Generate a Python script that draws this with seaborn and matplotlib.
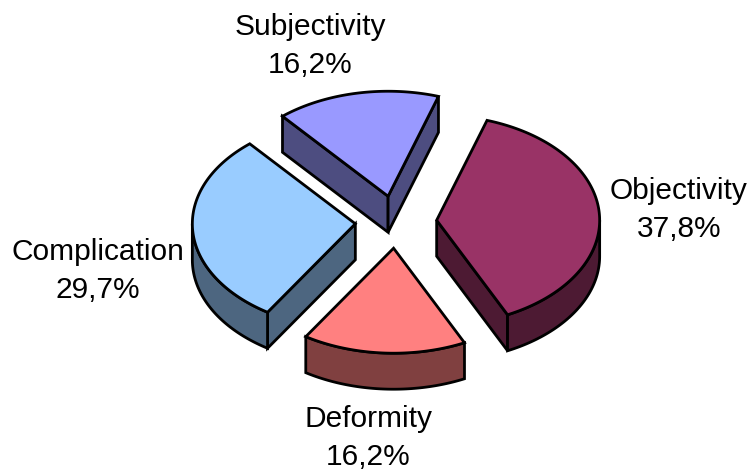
import numpy as np
import matplotlib
matplotlib.use("Agg")
import matplotlib.pyplot as plt
import seaborn as sns

# Shares of each category, percent
categories = ["Objectivity", "Deformity", "Complication", "Subjectivity"]
shares = [37.8, 16.2, 29.7, 16.2]
share_labels = ["37,8%", "16,2%", "29,7%", "16,2%"]
top_colors = ["#993366", "#FF8080", "#99CCFF", "#9999FF"]
side_colors = ["#4D1A33", "#804040", "#4D6680", "#4D4D80"]

START_DEG = 18.0      # first slice begins here, clockwise from twelve o'clock
EXPLODE = 0.25        # slice displacement, in pie radii
DEPTH = 0.343         # wall height, in vertical units
PX_X, PX_Y = 163.0, 105.0   # pixels per unit on the tilted disc
CX, CY = 396.0, 222.0       # pie centre, pixels

sns.set_theme(style="white")
plt.rcParams["font.family"] = ["Liberation Sans", "DejaVu Sans"]

W, H = 752, 470
fig = plt.figure(figsize=(W / 100, H / 100), dpi=100)
ax = fig.add_axes([0, 0, 1, 1])
ax.set_xlim(-CX / PX_X, (W - CX) / PX_X)
ax.set_ylim((CY - H) / PX_Y, CY / PX_Y)
sns.despine(ax=ax, left=True, bottom=True)
ax.set_xticks([])
ax.set_yticks([])


def on_circle(deg):
    t = np.radians(deg)
    return np.sin(t), np.cos(t)


def draw_poly(xs, ys, color, z):
    ax.fill(xs, ys, facecolor=color, edgecolor="black", linewidth=2.0,
            joinstyle="miter", zorder=z)


def draw_slice(start, end, top, side, z):
    mid = (start + end) / 2
    ox, oy = on_circle(mid)
    ox, oy = ox * EXPLODE, oy * EXPLODE

    # Cut faces: drawn only when their outward normal points at the viewer
    for edge, normal in ((start, start - 90), (end, end + 90)):
        if np.cos(np.radians(normal)) < 0:
            ex, ey = on_circle(edge)
            xs = [ox, ox + ex, ox + ex, ox]
            ys = [oy, oy + ey, oy + ey - DEPTH, oy - DEPTH]
            draw_poly(xs, ys, side, z)

    # Outer wall: the arc section on the near half of the disc
    lo, hi = max(start, 90), min(end, 270)
    if hi > lo:
        arc = np.linspace(lo, hi, 80)
        ax_, ay_ = on_circle(arc)
        xs = np.r_[ox + ax_, (ox + ax_)[::-1]]
        ys = np.r_[oy + ay_, (oy + ay_ - DEPTH)[::-1]]
        draw_poly(xs, ys, side, z + 0.1)

    # Top face
    arc = np.linspace(start, end, 120)
    ax_, ay_ = on_circle(arc)
    draw_poly(np.r_[ox, ox + ax_], np.r_[oy, oy + ay_], top, z + 0.2)


spans = np.array(shares) / sum(shares) * 360
starts = START_DEG + np.r_[0, np.cumsum(spans)[:-1]]

# Back slices first so nearer ones paint over them
order = [3, 0, 2, 1]
for rank, i in enumerate(order):
    draw_slice(starts[i], starts[i] + spans[i], top_colors[i], side_colors[i], 2 + rank)

# Label anchors in pixels, one per category
label_px = [(679, 210), (368, 438), (98, 271), (310, 46)]
for name, pct, (px, py) in zip(categories, share_labels, label_px):
    ax.text((px - CX) / PX_X, (CY - py) / PX_Y, f"{name}\n{pct}",
            ha="center", va="center", fontsize=21.5, color="black",
            linespacing=1.49, zorder=10)

fig.savefig("out.png", dpi=100, facecolor="white")
